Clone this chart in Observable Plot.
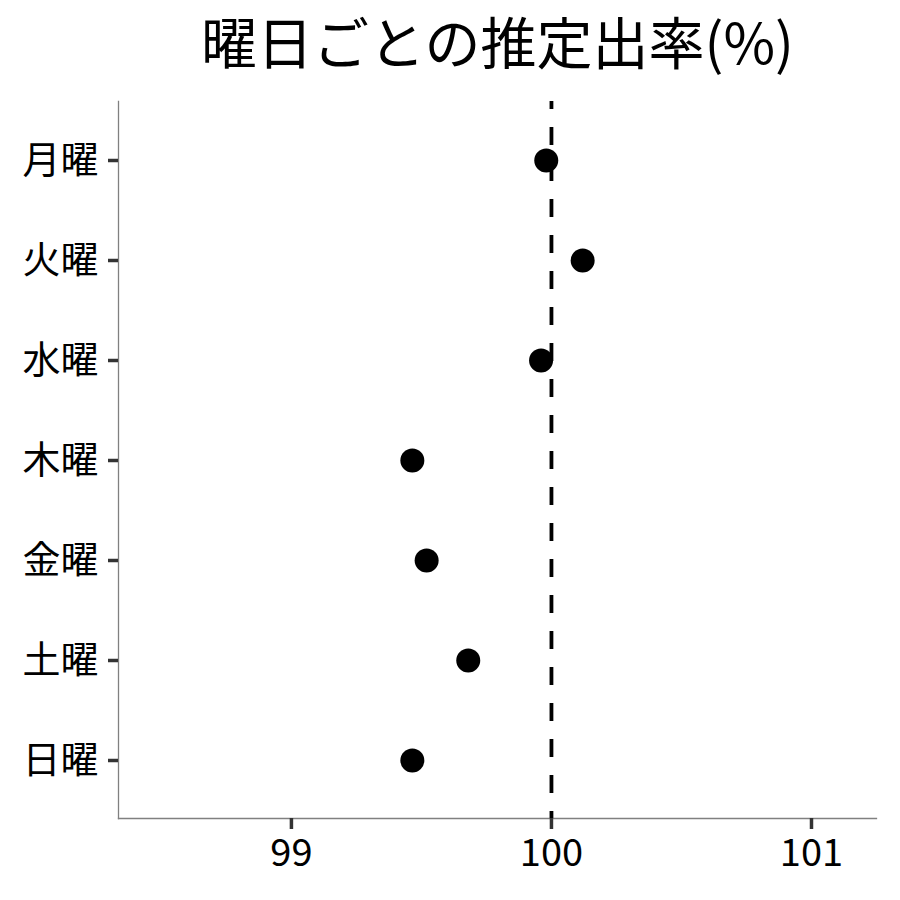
<!DOCTYPE html>
<html>
<head>
<meta charset="utf-8">
<script src="https://cdn.jsdelivr.net/npm/d3@7"></script>
<script src="https://cdn.jsdelivr.net/npm/@observablehq/plot@0.6"></script>
<style>
  html, body { margin: 0; padding: 0; background: #fff; }
  svg { font-family: "Noto Sans CJK JP", sans-serif; }
</style>
</head>
<body>
<div id="chart"></div>
<script>
const title = "曜日ごとの推定出率(%)";
const days = ["月曜", "火曜", "水曜", "木曜", "金曜", "土曜", "日曜"];
const rates = [99.98, 100.12, 99.96, 99.465, 99.52, 99.68, 99.465];
const xTicks = [99, 100, 101];
const xDomain = [98.335, 101.25];
const reference = [100];

const data = days.map((d, i) => ({ day: d, rate: rates[i] }));

const chart = Plot.plot({
  width: 900,
  height: 900,
  marginLeft: 118,
  marginRight: 24,
  marginTop: 101,
  marginBottom: 82,
  style: { fontFamily: '"Noto Sans CJK JP", sans-serif', background: "#fff" },
  x: { domain: xDomain, ticks: xTicks, label: null },
  y: { type: "point", domain: days, padding: 0.585, label: null },
  marks: [
    Plot.frame({ anchor: "left", stroke: "#808080", strokeWidth: 1.3 }),
    Plot.frame({ anchor: "bottom", stroke: "#808080", strokeWidth: 1.3 }),
    Plot.axisX({ ticks: xTicks, tickSize: 11, tickPadding: 10, fontSize: 38, stroke: "#333", strokeWidth: 3.5, fill: "#000", label: null, tickFormat: d => String(d) }),
    Plot.axisY({ tickSize: 10, tickPadding: 10, fontSize: 38, stroke: "#333", strokeWidth: 3.5, fill: "#000", label: null }),
    Plot.ruleX(reference, { stroke: "#000", strokeWidth: 3.8, strokeDasharray: "18,18", strokeDashoffset: 10 }),
    Plot.dot(data, { x: "rate", y: "day", r: 12, fill: "#000", stroke: null }),
    Plot.text([title], { frameAnchor: "top", dy: -55, fontSize: 56, fill: "#000", lineAnchor: "middle" })
  ]
});
document.getElementById("chart").appendChild(chart);
</script>
</body>
</html>
